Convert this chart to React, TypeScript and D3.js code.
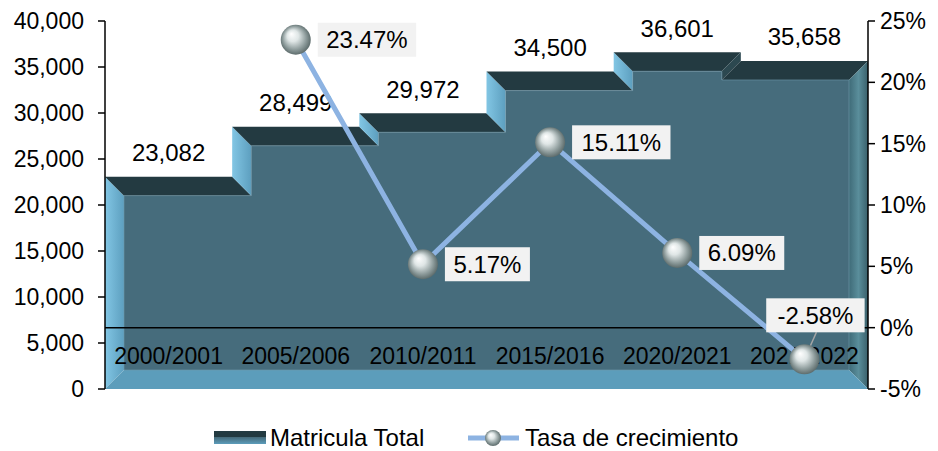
import React from "react";
import * as d3 from "d3";

const categories = ["2000/2001", "2005/2006", "2010/2011", "2015/2016", "2020/2021", "2021/2022"];
const matricula = [23082, 28499, 29972, 34500, 36601, 35658];
const tasa: (number | null)[] = [null, 23.47, 5.17, 15.11, 6.09, -2.58];
const leftTicks = [0, 5000, 10000, 15000, 20000, 25000, 30000, 35000, 40000];
const rightTicks = [-5, 0, 5, 10, 15, 20, 25];

const W = 938;
const H = 451;
const FONT = "'Liberation Sans', Arial, sans-serif";

const x0 = 105;
const x1 = 868;
const yTop = 21;
const yBot = 389;
const bevel = 19;

type Pt = [number, number];

const sgn = (v: number) => (Math.abs(v) < 1e-6 ? 0 : Math.sign(v));

function insetPolygon(pts: Pt[], b: number): Pt[] {
  const n = pts.length;
  const norm = (a: Pt, c: Pt): Pt => [-sgn(c[1] - a[1]), sgn(c[0] - a[0])];
  return pts.map((p, i) => {
    const prev = pts[(i - 1 + n) % n];
    const next = pts[(i + 1) % n];
    const n1 = norm(prev, p);
    const n2 = norm(p, next);
    return [p[0] + b * (n1[0] + n2[0]), p[1] + b * (n1[1] + n2[1])] as Pt;
  });
}

export default function App() {
  const x = d3.scaleBand().domain(categories).range([x0, x1]).padding(0);
  const yL = d3.scaleLinear().domain([0, 40000]).range([yBot, yTop]);
  const yR = d3.scaleLinear().domain([-5, 25]).range([yBot, yTop]);
  const fmt = d3.format(",");

  // stepped outline, clockwise
  const outer: Pt[] = [[x0, yBot]];
  categories.forEach((c, i) => {
    const xs = x(c)!;
    const xe = i === categories.length - 1 ? x1 : x(categories[i + 1])!;
    const yy = yL(matricula[i]);
    outer.push([xs, yy]);
    outer.push([xe, yy]);
  });
  outer.push([x1, yBot]);
  const inner = insetPolygon(outer, bevel);

  const faces = outer.map((p, i) => {
    const j = (i + 1) % outer.length;
    const q = outer[j];
    const dx = sgn(q[0] - p[0]);
    const dy = sgn(q[1] - p[1]);
    let fill = "#466c7c";
    if (dy < 0) fill = "url(#faceLeft)";
    else if (dx > 0) fill = "#233a41";
    else if (dy > 0) fill = j === outer.length - 1 ? "url(#faceRight)" : "#2c4850";
    else if (dx < 0) fill = "#5c9dbb";
    const poly = [p, q, inner[j], inner[i]];
    return { d: "M" + poly.map((v) => v.join(",")).join("L") + "Z", fill, key: i };
  });

  const cx = (c: string) => x(c)! + x.bandwidth() / 2;

  const linePts = categories
    .map((c, i) => ({ c, v: tasa[i] }))
    .filter((d) => d.v !== null) as { c: string; v: number }[];
  const line = d3
    .line<{ c: string; v: number }>()
    .x((d) => cx(d.c))
    .y((d) => yR(d.v));

  const fs = 23;
  const fl = 24;

  return (
    <div style={{ position: "fixed", left: 0, top: 0 }}>
      <svg width={W} height={H} style={{ display: "block", background: "#fff" }} fontFamily={FONT}>
        <defs>
          <linearGradient id="faceLeft" x1="0" x2="1" y1="0" y2="0">
            <stop offset="0" stopColor="#82c6e4" />
            <stop offset="1" stopColor="#5d9fbf" />
          </linearGradient>
          <linearGradient id="faceRight" x1="0" x2="1" y1="0" y2="0">
            <stop offset="0" stopColor="#3f6b78" />
            <stop offset="0.5" stopColor="#5a8e9b" />
            <stop offset="1" stopColor="#3a606b" />
          </linearGradient>
          <radialGradient id="ball" cx="0.5" cy="0.5" r="0.55" fx="0.35" fy="0.3">
            <stop offset="0" stopColor="#ffffff" />
            <stop offset="0.35" stopColor="#dfe6e6" />
            <stop offset="0.7" stopColor="#8f9d9d" />
            <stop offset="1" stopColor="#4f5e5e" />
          </radialGradient>
          <linearGradient id="legBar" x1="0" x2="0" y1="0" y2="1">
            <stop offset="0" stopColor="#233a41" />
            <stop offset="0.5" stopColor="#233a41" />
            <stop offset="0.5" stopColor="#466c7c" />
            <stop offset="1" stopColor="#5c9dbb" />
          </linearGradient>
        </defs>

        {/* stepped area */}
        <path d={"M" + inner.map((v) => v.join(",")).join("L") + "Z"} fill="#466c7c" />
        {faces.map((f) => (
          <path key={f.key} d={f.d} fill={f.fill} />
        ))}
        <path
          d={"M" + inner.map((v) => v.join(",")).join("L") + "Z"}
          fill="none"
          stroke="#6f9aab"
          strokeWidth={1}
          strokeOpacity={0.6}
        />

        {/* left axis */}
        <line x1={x0} x2={x0} y1={yTop} y2={yBot} stroke="#000" strokeWidth={1.5} />
        {leftTicks.map((t) => (
          <g key={t}>
            <line x1={x0 - 7} x2={x0} y1={yL(t)} y2={yL(t)} stroke="#000" strokeWidth={1.5} />
            <text x={x0 - 21} y={yL(t)} dy="0.35em" textAnchor="end" fontSize={fs}>
              {fmt(t)}
            </text>
          </g>
        ))}

        {/* right axis */}
        <line x1={x1} x2={x1} y1={yTop} y2={yBot} stroke="#000" strokeWidth={1.5} />
        {rightTicks.map((t) => (
          <g key={t}>
            <line x1={x1} x2={x1 + 7} y1={yR(t)} y2={yR(t)} stroke="#000" strokeWidth={1.5} />
            <text x={x1 + 12} y={yR(t)} dy="0.35em" textAnchor="start" fontSize={fs}>
              {t + "%"}
            </text>
          </g>
        ))}

        {/* category axis at 0% */}
        <line x1={x0} x2={x1} y1={yR(0)} y2={yR(0)} stroke="#000" strokeWidth={1.5} />
        {categories.map((c) => (
          <text key={c} x={cx(c)} y={364} textAnchor="middle" fontSize={fs}>
            {c}
          </text>
        ))}

        {/* bar labels */}
        {categories.map((c, i) => (
          <text key={c} x={cx(c)} y={yL(matricula[i]) - 24} dy="0.35em" textAnchor="middle" fontSize={fl}>
            {fmt(matricula[i])}
          </text>
        ))}

        {/* growth line */}
        <path d={line(linePts) || ""} fill="none" stroke="#8db3e2" strokeWidth={5} />

        {/* leader line for last label */}
        {linePts
          .filter((d) => d.v < 0)
          .map((d) => (
            <line
              key={d.c}
              x1={cx(d.c)}
              y1={yR(d.v)}
              x2={cx(d.c) + 12}
              y2={yR(d.v) - 27}
              stroke="#a6a6a6"
              strokeWidth={1.5}
            />
          ))}

        {linePts.map((d) => (
          <circle key={d.c} cx={cx(d.c)} cy={yR(d.v)} r={15} fill="url(#ball)" />
        ))}

        {linePts.map((d) => {
          const label = d.v.toFixed(2) + "%";
          const w = label.length * 13.4 + 18;
          const above = d.v < 0;
          const bx = above ? cx(d.c) + 11 - w / 2 : cx(d.c) + 22;
          const by = above ? yR(d.v) - 44 : yR(d.v);
          return (
            <g key={d.c}>
              <rect x={bx} y={by - 17} width={w} height={34} fill="#f2f2f2" />
              <text x={bx + w / 2} y={by} dy="0.35em" textAnchor="middle" fontSize={fl}>
                {label}
              </text>
            </g>
          );
        })}

        {/* legend */}
        <g>
          <rect x={214} y={431} width={52} height={13} fill="url(#legBar)" />
          <text x={270} y={438} dy="0.35em" fontSize={fl}>
            Matricula Total
          </text>
          <line x1={468} x2={519} y1={438} y2={438} stroke="#8db3e2" strokeWidth={5} />
          <circle cx={493} cy={438} r={8} fill="url(#ball)" />
          <text x={525} y={438} dy="0.35em" fontSize={fl}>
            Tasa de crecimiento
          </text>
        </g>
      </svg>
    </div>
  );
}
